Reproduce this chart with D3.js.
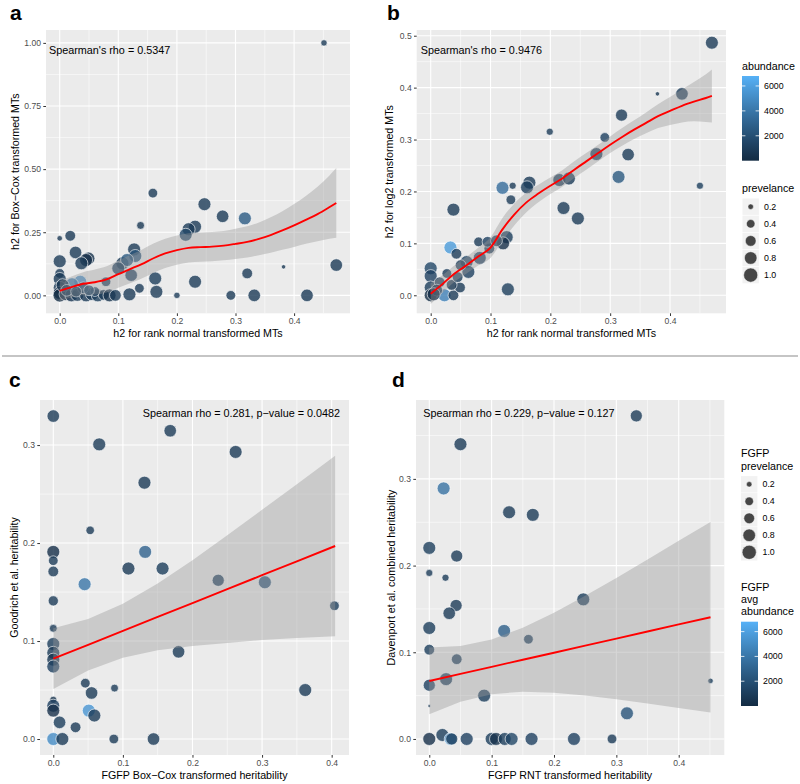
<!DOCTYPE html>
<html><head><meta charset="utf-8">
<script src="https://cdn.jsdelivr.net/npm/d3@7"></script>
<style>body{margin:0;background:#fff} text{font-family:"Liberation Sans",Arial,Helvetica,sans-serif}</style>
</head><body><svg id="chart" width="800" height="784"></svg>
<script>
// ---------- Panel a ----------
const aX = [0.451,0.159,0.247,0.278,0.316,0.138,0.231,0.220,0.215,0.018,0.000,0.027,0.049,0.045,0.037,0.000,0.127,0.129,0.107,0.115,0.100,0.122,0.119,0.163,0.165,0.136,0.079,0.200,0.231,0.292,0.320,0.332,0.382,0.422,0.472,0.000,0.000,0.000,0.000,0.000,0.010,0.020,0.035,0.021,0.030,0.045,0.055,0.065,0.075,0.085,0.095,0.005,0.040,0.012,0.060,0.028,0.050];
const aY = [1.000,0.405,0.361,0.313,0.305,0.277,0.272,0.262,0.240,0.236,0.226,0.170,0.146,0.140,0.127,0.135,0.182,0.156,0.127,0.140,0.107,0.080,0.004,0.067,0.014,0.028,0.054,0.000,0.054,0.000,0.087,0.000,0.113,0.000,0.120,0.087,0.065,0.030,0.010,0.000,0.005,0.000,0.054,0.044,0.002,0.000,0.005,0.000,0.002,0.000,0.000,0.040,0.030,0.020,0.015,0.015,0.020];
const aPrev = [0.25,0.5,0.85,0.8,0.85,0.35,0.85,0.85,0.85,0.6,0.2,0.8,0.85,0.85,0.85,0.85,0.85,0.85,0.85,0.85,0.85,0.8,0.85,0.85,0.85,0.5,0.5,0.25,0.85,0.5,0.6,0.8,0.15,0.8,0.8,0.5,0.85,0.85,0.85,0.9,0.85,0.85,0.85,0.85,0.85,0.85,0.85,0.85,0.6,0.85,0.7,0.85,0.7,0.7,0.5,0.6,0.6];
const aAbund = [800,800,900,900,2600,700,800,900,1500,800,700,900,400,300,900,900,900,2200,900,2500,1200,1200,900,1000,900,900,1000,800,900,800,800,800,700,800,800,800,800,800,200,100,300,600,5200,4200,900,800,900,1000,800,400,800,700,1500,1000,1200,1000,1800];
const aFitX = [0,0.02,0.04,0.06,0.08,0.1,0.12,0.14,0.16,0.18,0.2,0.22,0.24,0.26,0.28,0.3,0.32,0.34,0.36,0.38,0.4,0.42,0.44,0.46,0.472];
const aFitY = [0.018,0.033,0.046,0.052,0.063,0.084,0.104,0.124,0.147,0.166,0.179,0.188,0.191,0.193,0.197,0.204,0.212,0.224,0.239,0.257,0.277,0.299,0.322,0.349,0.366];
const aFitLo = [-0.022,-0.009,0.000,0.002,0.011,0.030,0.048,0.067,0.089,0.108,0.121,0.130,0.133,0.135,0.139,0.144,0.150,0.159,0.169,0.181,0.192,0.204,0.214,0.224,0.228];
const aFitHi = [0.058,0.075,0.092,0.102,0.115,0.138,0.160,0.181,0.205,0.224,0.237,0.246,0.249,0.251,0.255,0.264,0.274,0.289,0.309,0.333,0.362,0.394,0.430,0.474,0.504];

// ---------- Panel b ----------
const bX = [0.470,0.420,0.379,0.319,0.291,0.199,0.277,0.330,0.314,0.450,0.215,0.231,0.222,0.246,0.165,0.161,0.137,0.120,0.134,0.038,0.033,0.043,0.127,0.121,0.098,0.080,0.095,0.082,0.060,0.063,0.050,0.129,0.000,0.000,0.000,0.000,0.023,0.038,0.049,0.027,0.015,0.010,0.035,0.045,0.110,0.005];
const bY = [0.4865,0.388,0.388,0.347,0.304,0.315,0.272,0.271,0.228,0.211,0.222,0.225,0.168,0.148,0.217,0.208,0.211,0.207,0.184,0.165,0.092,0.080,0.112,0.100,0.090,0.103,0.103,0.072,0.064,0.045,0.058,0.0115,0.052,0.037,0.015,0.000,0.000,0.000,0.015,0.042,0.025,0.010,0.020,0.035,0.105,0.002];
const bPrev = [0.85,0.8,0.15,0.75,0.5,0.3,0.85,0.8,0.85,0.3,0.85,0.85,0.85,0.85,0.85,0.85,0.3,0.85,0.5,0.85,0.85,0.6,0.85,0.85,0.6,0.5,0.6,0.85,0.85,0.85,0.6,0.85,0.85,0.85,0.85,0.85,0.85,0.6,0.6,0.5,0.6,0.7,0.6,0.6,0.7,0.85];
const bAbund = [900,900,700,900,1200,900,900,900,2500,1000,900,900,900,900,800,1000,900,3500,900,900,5800,900,1000,300,900,900,1200,1200,1500,1200,900,1100,1500,1200,1000,100,4500,900,800,900,900,600,700,1000,900,200];
const bFitX = [0,0.02,0.04,0.06,0.08,0.1,0.12,0.14,0.16,0.18,0.2,0.22,0.24,0.26,0.28,0.3,0.32,0.34,0.36,0.38,0.4,0.42,0.44,0.46,0.47];
const bFitY = [0.003,0.022,0.042,0.058,0.075,0.092,0.127,0.156,0.179,0.196,0.211,0.225,0.242,0.258,0.274,0.290,0.305,0.319,0.332,0.345,0.355,0.365,0.373,0.380,0.384];
const bFitLo = [-0.017,0.005,0.026,0.042,0.058,0.072,0.105,0.135,0.160,0.179,0.195,0.209,0.226,0.242,0.258,0.274,0.288,0.301,0.312,0.322,0.328,0.333,0.335,0.334,0.333];
const bFitHi = [0.023,0.039,0.058,0.074,0.092,0.112,0.149,0.177,0.198,0.213,0.227,0.241,0.258,0.274,0.290,0.306,0.322,0.337,0.352,0.368,0.382,0.397,0.411,0.426,0.435];

// ---------- Panel c ----------
const cX = [0.000,0.168,0.066,0.262,0.131,0.053,0.000,0.000,0.000,0.132,0.108,0.157,0.045,0.237,0.304,0.000,0.404,0.000,0.000,0.000,0.000,0.000,0.180,0.362,0.046,0.055,0.088,0.000,0.000,0.000,0.051,0.059,0.009,0.032,0.000,0.013,0.087,0.144];
const cY = [0.3296,0.3146,0.3007,0.293,0.2616,0.213,0.191,0.182,0.171,0.191,0.174,0.174,0.158,0.162,0.160,0.141,0.136,0.113,0.097,0.088,0.081,0.074,0.089,0.050,0.057,0.047,0.052,0.040,0.034,0.029,0.029,0.024,0.017,0.012,0.000,0.000,0.000,0.000];
const cPrev = [0.8,0.8,0.85,0.85,0.85,0.4,0.85,0.5,0.6,0.85,0.85,0.85,0.85,0.75,0.85,0.55,0.5,0.35,0.85,0.85,0.85,0.85,0.8,0.85,0.5,0.8,0.35,0.3,0.85,0.85,0.85,0.85,0.8,0.6,0.85,0.85,0.5,0.8];
const cAbund = [900,900,900,800,800,800,200,900,900,3000,800,1000,4000,1000,2000,900,1000,900,1000,900,700,1200,900,900,900,900,900,400,1200,300,5500,900,1000,900,5000,900,900,900];
const cFitX = [0,0.05,0.1,0.15,0.2,0.25,0.3,0.35,0.405];
const cFitY = [0.082,0.0962,0.1104,0.1246,0.1388,0.153,0.1672,0.1814,0.197];
const cFitLo = [0.051,0.070,0.083,0.0905,0.095,0.098,0.101,0.103,0.105];
const cFitHi = [0.113,0.1225,0.138,0.1587,0.1825,0.208,0.234,0.260,0.289];

// ---------- Panel d ----------
const dX = [0.332,0.050,0.023,0.128,0.166,0.000,0.044,0.000,0.026,0.247,0.043,0.032,0.000,0.120,0.159,0.000,0.044,0.027,0.000,0.451,0.088,0.000,0.317,0.000,0.021,0.034,0.060,0.100,0.107,0.121,0.132,0.164,0.232,0.293,0.036];
const dY = [0.3727,0.340,0.289,0.2615,0.2585,0.2204,0.211,0.1915,0.186,0.161,0.154,0.145,0.128,0.1246,0.115,0.103,0.092,0.069,0.062,0.067,0.050,0.038,0.0296,0.000,0.0046,0.000,0.000,0.000,0.000,0.000,0.000,0.000,0.000,0.000,0.000];
const dPrev = [0.75,0.85,0.85,0.85,0.85,0.85,0.75,0.3,0.3,0.85,0.75,0.8,0.85,0.85,0.5,0.6,0.6,0.85,0.75,0.2,0.85,0.1,0.85,0.85,0.85,0.8,0.85,0.85,0.85,0.85,0.85,0.85,0.85,0.5,0.75];
const dAbund = [900,900,3800,900,900,1100,900,900,900,1000,900,900,1000,2800,1000,1000,1000,1000,1200,1000,1000,900,2200,200,1000,5500,1200,1000,400,1000,1500,1200,1200,900,1000];
const dFitX = [0,0.05,0.1,0.15,0.2,0.25,0.3,0.35,0.4,0.451];
const dFitY = [0.0669,0.0751,0.0832,0.0914,0.0995,0.1077,0.1158,0.124,0.1321,0.1404];
const dFitLo = [0.0284,0.0429,0.0517,0.0545,0.0533,0.0501,0.0458,0.041,0.0357,0.0304];
const dFitHi = [0.1054,0.1073,0.1147,0.1283,0.1457,0.1653,0.1858,0.207,0.2285,0.2504];

// ---------- Legends ----------
const prevLegendValues = [0.2,0.4,0.6,0.8,1.0];
const abundLegendValues = [2000,4000,6000];

const svg = d3.select("#chart");
svg.append("rect").attr("width",800).attr("height",784).attr("fill","#fff");

const colorScale = d3.scaleLinear().domain([0,6800]).range(["#132B43","#56B1F7"]).interpolate(d3.interpolateLab);
const areaScale = d3.scaleLinear().domain([0.1,1]).range([2.2,50]);
const rad = p => Math.sqrt(areaScale(p));

let clipId = 0;
function panel(cfg) {
  const g = svg.append("g");
  const x = d3.scaleLinear().domain(cfg.xDom).range([cfg.left, cfg.right]);
  const y = d3.scaleLinear().domain(cfg.yDom).range([cfg.bottom, cfg.top]);
  const W = cfg.right - cfg.left, H = cfg.bottom - cfg.top;
  g.append("rect").attr("x",cfg.left).attr("y",cfg.top).attr("width",W).attr("height",H).attr("fill","#EBEBEB");
  const id = "clip" + (clipId++);
  g.append("clipPath").attr("id",id).append("rect").attr("x",cfg.left).attr("y",cfg.top).attr("width",W).attr("height",H);
  const grid = g.append("g");
  cfg.xMinor.forEach(v => grid.append("line").attr("x1",x(v)).attr("x2",x(v)).attr("y1",cfg.top).attr("y2",cfg.bottom).attr("stroke","#fff").attr("stroke-width",0.55));
  cfg.yMinor.forEach(v => grid.append("line").attr("y1",y(v)).attr("y2",y(v)).attr("x1",cfg.left).attr("x2",cfg.right).attr("stroke","#fff").attr("stroke-width",0.55));
  cfg.xTicks.forEach(v => grid.append("line").attr("x1",x(v)).attr("x2",x(v)).attr("y1",cfg.top).attr("y2",cfg.bottom).attr("stroke","#fff").attr("stroke-width",1.1));
  cfg.yTicks.forEach(v => grid.append("line").attr("y1",y(v)).attr("y2",y(v)).attr("x1",cfg.left).attr("x2",cfg.right).attr("stroke","#fff").attr("stroke-width",1.1));

  const body = g.append("g").attr("clip-path",`url(#${id})`);
  const pts = cfg.px.map((v,i)=>({x:v, y:cfg.py[i], p:cfg.pp[i], a:cfg.pa[i]}));
  body.selectAll("circle.pt").data(pts).enter().append("circle")
    .attr("cx",d=>x(d.x)).attr("cy",d=>y(d.y)).attr("r",d=>rad(d.p))
    .attr("fill",d=>colorScale(d.a)).attr("fill-opacity",0.8)
    .attr("stroke","#fff").attr("stroke-width",0.7).attr("stroke-opacity",0.9);
  const fit = cfg.fx.map((v,i)=>({x:v, y:cfg.fy[i], lo:cfg.flo[i], hi:cfg.fhi[i]}));
  const curve = cfg.linear ? d3.curveLinear : d3.curveMonotoneX;
  body.append("path").datum(fit)
    .attr("d", d3.area().x(d=>x(d.x)).y0(d=>y(d.lo)).y1(d=>y(d.hi)).curve(curve))
    .attr("fill","#999999").attr("fill-opacity",0.4);
  body.append("path").datum(fit)
    .attr("d", d3.line().x(d=>x(d.x)).y(d=>y(d.y)).curve(curve))
    .attr("fill","none").attr("stroke","#FF0000").attr("stroke-width",1.9);

  const xa = g.append("g").attr("transform",`translate(0,${cfg.bottom})`)
    .call(d3.axisBottom(x).tickValues(cfg.xTicks).tickFormat(d3.format(cfg.xFmt)).tickSize(2.7).tickPadding(2.3).tickSizeOuter(0));
  const ya = g.append("g").attr("transform",`translate(${cfg.left},0)`)
    .call(d3.axisLeft(y).tickValues(cfg.yTicks).tickFormat(d3.format(cfg.yFmt)).tickSize(2.7).tickPadding(2.3).tickSizeOuter(0));
  [xa,ya].forEach(a => {
    a.select(".domain").remove();
    a.selectAll(".tick line").attr("stroke","#333333").attr("stroke-width",1);
    a.selectAll(".tick text").attr("fill","#4D4D4D").style("font-size","8.6px").style("font-family","'Liberation Sans',Arial,sans-serif");
  });
  g.append("text").attr("x",(cfg.left+cfg.right)/2).attr("y",cfg.xTitleY).attr("text-anchor","middle")
    .style("font-size","10.7px").attr("fill","#000").text(cfg.xTitle);
  g.append("text").attr("transform",`translate(${cfg.yTitleX},${(cfg.top+cfg.bottom)/2}) rotate(-90)`)
    .attr("dy","0.35em").attr("text-anchor","middle").style("font-size","10.7px").attr("fill","#000").text(cfg.yTitle);
  g.append("text").attr("x",cfg.annX).attr("y",cfg.annY).attr("text-anchor",cfg.annAnchor)
    .style("font-size","10.8px").attr("fill","#000").text(cfg.ann);
}

panel({left:46, right:350, top:30, bottom:313.3, xDom:[-0.0234,0.4954], yDom:[-0.071,1.051],
  xTicks:[0,0.1,0.2,0.3,0.4], yTicks:[0,0.25,0.5,0.75,1.0], xMinor:[0.05,0.15,0.25,0.35,0.45], yMinor:[0.125,0.375,0.625,0.875],
  xFmt:".1f", yFmt:".2f", px:aX, py:aY, pp:aPrev, pa:aAbund, fx:aFitX, fy:aFitY, flo:aFitLo, fhi:aFitHi, linear:false,
  xTitle:"h2 for rank normal transformed MTs", yTitle:"h2 for Box\u2212Cox transformed MTs", xTitleY:337, yTitleX:15,
  ann:"Spearman's rho = 0.5347", annX:49, annY:54, annAnchor:"start"});

panel({left:416.7, right:726, top:30, bottom:313.3, xDom:[-0.0234,0.4936], yDom:[-0.0347,0.511],
  xTicks:[0,0.1,0.2,0.3,0.4], yTicks:[0,0.1,0.2,0.3,0.4,0.5], xMinor:[0.05,0.15,0.25,0.35,0.45], yMinor:[0.05,0.15,0.25,0.35,0.45],
  xFmt:".1f", yFmt:".1f", px:bX, py:bY, pp:bPrev, pa:bAbund, fx:bFitX, fy:bFitY, flo:bFitLo, fhi:bFitHi, linear:false,
  xTitle:"h2 for rank normal transformed MTs", yTitle:"h2 for log2 transformed MTs", xTitleY:337, yTitleX:389,
  ann:"Spearman's rho = 0.9476", annX:420.7, annY:54, annAnchor:"start"});

panel({left:40, right:349, top:400, bottom:755, xDom:[-0.0191,0.4249], yDom:[-0.0163,0.346],
  xTicks:[0,0.1,0.2,0.3,0.4], yTicks:[0,0.1,0.2,0.3], xMinor:[0.05,0.15,0.25,0.35], yMinor:[0.05,0.15,0.25],
  xFmt:".1f", yFmt:".1f", px:cX, py:cY, pp:cPrev, pa:cAbund, fx:cFitX, fy:cFitY, flo:cFitLo, fhi:cFitHi, linear:true,
  xTitle:"FGFP Box\u2212Cox transformed heritability", yTitle:"Goodrich et al. heritability", xTitleY:779, yTitleX:14.5,
  ann:"Spearman rho = 0.281, p\u2212value = 0.0482", annX:340, annY:416.5, annAnchor:"end"});

panel({left:416, right:724.3, top:400, bottom:755, xDom:[-0.0213,0.4731], yDom:[-0.0185,0.391],
  xTicks:[0,0.1,0.2,0.3,0.4], yTicks:[0,0.1,0.2,0.3], xMinor:[0.05,0.15,0.25,0.35,0.45], yMinor:[0.05,0.15,0.25,0.35],
  xFmt:".1f", yFmt:".1f", px:dX, py:dY, pp:dPrev, pa:dAbund, fx:dFitX, fy:dFitY, flo:dFitLo, fhi:dFitHi, linear:true,
  xTitle:"FGFP RNT transformed heritability", yTitle:"Davenport et al. combined heritability", xTitleY:779, yTitleX:391,
  ann:"Spearman rho = 0.229, p\u2212value = 0.127", annX:423.3, annY:416.5, annAnchor:"start"});

// Panel letters and separator
[["a",10,20],["b",387,20],["c",9,387],["d",392,387]].forEach(([t,xx,yy]) =>
  svg.append("text").attr("x",xx).attr("y",yy).style("font-size","21px").style("font-weight","bold").attr("fill","#000").text(t));
svg.append("line").attr("x1",2).attr("x2",798).attr("y1",356).attr("y2",356).attr("stroke","#8c8c8c").attr("stroke-width",1.2);

// Legend helpers
const defs = svg.append("defs");
function colorbar(xl, yTop, yBot, gid) {
  const grad = defs.append("linearGradient").attr("id",gid).attr("x1",0).attr("x2",0).attr("y1",1).attr("y2",0);
  d3.range(0,1.0001,0.1).forEach(t => grad.append("stop").attr("offset",t).attr("stop-color",colorScale(t*6800)));
  const cb = d3.scaleLinear().domain([0,6800]).range([yBot,yTop]);
  svg.append("rect").attr("x",xl).attr("y",yTop).attr("width",17).attr("height",yBot-yTop).attr("fill",`url(#${gid})`);
  abundLegendValues.forEach(v => {
    svg.append("line").attr("x1",xl).attr("x2",xl+3.4).attr("y1",cb(v)).attr("y2",cb(v)).attr("stroke","#fff").attr("stroke-width",0.8);
    svg.append("line").attr("x1",xl+17-3.4).attr("x2",xl+17).attr("y1",cb(v)).attr("y2",cb(v)).attr("stroke","#fff").attr("stroke-width",0.8);
    svg.append("text").attr("x",xl+22).attr("y",cb(v)).attr("dy","0.35em").style("font-size","8.8px").attr("fill","#000").text(v);
  });
}
function sizeLegend(xl, yFirst, step) {
  prevLegendValues.forEach((v,i) => {
    const cy = yFirst + i*step;
    svg.append("rect").attr("x",xl).attr("y",cy-8.2).attr("width",16.4).attr("height",16.4).attr("fill","#F2F2F2");
    svg.append("circle").attr("cx",xl+8.2).attr("cy",cy).attr("r",rad(v)).attr("fill","#333333").attr("fill-opacity",0.9).attr("stroke","#fff").attr("stroke-width",0.5);
    svg.append("text").attr("x",xl+21.5).attr("y",cy).attr("dy","0.35em").style("font-size","8.8px").attr("fill","#000").text(d3.format(".1f")(v));
  });
}
// Legend b
svg.append("text").attr("x",742).attr("y",70).style("font-size","10.7px").attr("fill","#000").text("abundance");
colorbar(742, 76, 160.7, "gradB");
svg.append("text").attr("x",742).attr("y",192).style("font-size","10.7px").attr("fill","#000").text("prevelance");
sizeLegend(742.5, 206.7, 17.1);
// Legend d
svg.append("text").attr("x",741).attr("y",457).style("font-size","10.7px").attr("fill","#000").text("FGFP");
svg.append("text").attr("x",741).attr("y",470).style("font-size","10.7px").attr("fill","#000").text("prevelance");
sizeLegend(741, 484.3, 17);
svg.append("text").attr("x",741).attr("y",591).style("font-size","10.7px").attr("fill","#000").text("FGFP");
svg.append("text").attr("x",741).attr("y",603).style("font-size","10.7px").attr("fill","#000").text("avg");
svg.append("text").attr("x",741).attr("y",615).style("font-size","10.7px").attr("fill","#000").text("abundance");
colorbar(741, 621.7, 706, "gradD");
</script></body></html>
